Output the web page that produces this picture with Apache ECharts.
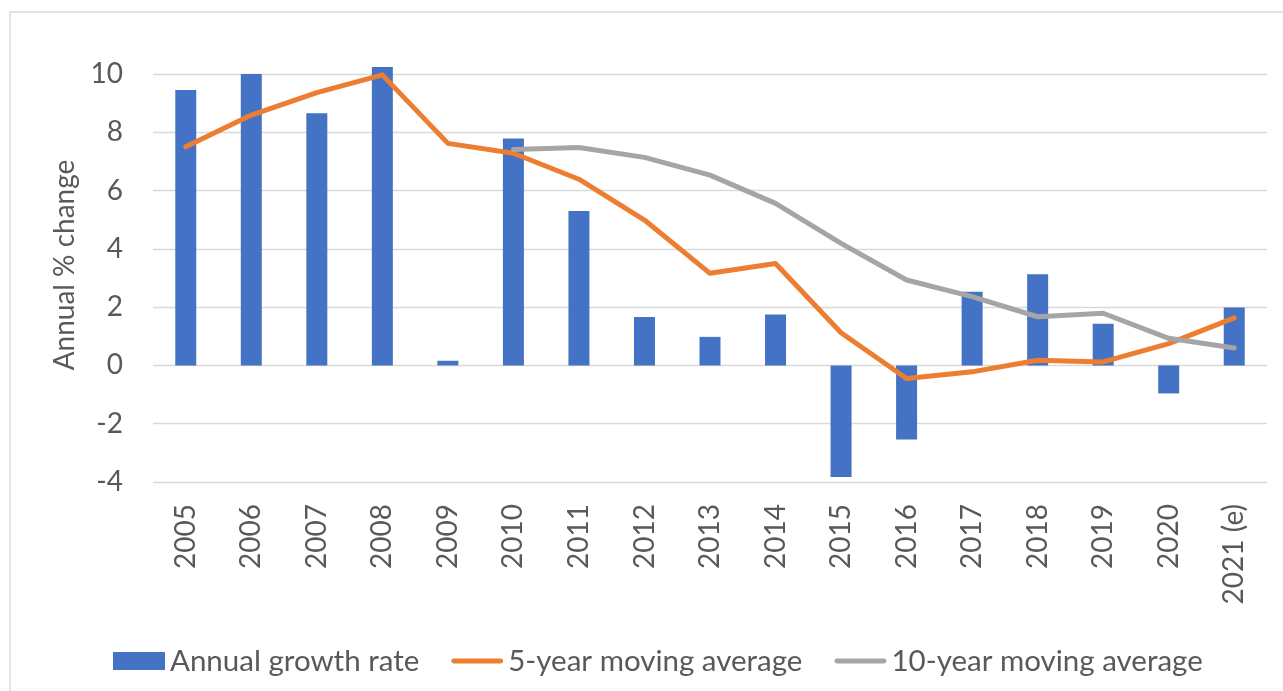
<!DOCTYPE html>
<html>
<head>
<meta charset="utf-8">
<script src="https://cdn.jsdelivr.net/npm/echarts@6/dist/echarts.min.js"></script>
<style>
  html, body { margin: 0; padding: 0; background: #fff; }
  #chart { width: 1283px; height: 691px; }
</style>
</head>
<body>
<div id="chart"></div>
<script>
const years = ["2005", "2006", "2007", "2008", "2009", "2010", "2011", "2012", "2013",
  "2014", "2015", "2016", "2017", "2018", "2019", "2020", "2021 (e)"];
const annualGrowth = [9.45, 10.0, 8.65, 10.24, 0.16, 7.79, 5.30, 1.66, 0.98,
  1.75, -3.83, -2.54, 2.53, 3.13, 1.43, -0.96, 1.99];
const avg5 = [7.50, 8.59, 9.36, 9.97, 7.62, 7.28, 6.39, 4.99, 3.16,
  3.50, 1.12, -0.45, -0.22, 0.18, 0.12, 0.75, 1.63];
const avg10 = [null, null, null, null, null, 7.41, 7.48, 7.14, 6.53,
  5.56, 4.19, 2.93, 2.36, 1.67, 1.79, 0.93, 0.60];
const yTicks = { min: -4, max: 10, step: 2 };

const font = "Lato, 'Liberation Sans', sans-serif";
const textColor = "#595959";
// flat line icon for the legend (no marker dot)
const lineIcon = "path://M2,0 L50,0 A2.5,2.5 0 0 1 50,5 L2,5 A2.5,2.5 0 0 1 2,0 Z";

const chart = echarts.init(document.getElementById("chart"));

const option = {
  animation: false,
  textStyle: { fontFamily: font },
  graphic: [
    {
      type: "rect",
      shape: { x: 10, y: 12, width: 1300, height: 700 },
      style: { fill: "none", stroke: "#d9d9d9", lineWidth: 1.3 },
      silent: true,
    },
    {
      type: "text",
      x: 65,
      y: 265,
      rotation: Math.PI / 2,
      style: {
        text: "Annual % change",
        fontFamily: font,
        fontSize: 28,
        fill: textColor,
        align: "center",
        verticalAlign: "middle",
      },
    },
  ],
  grid: { left: 153, right: 16, top: 74, bottom: 209 },
  legend: {
    left: 108,
    top: 641,
    itemWidth: 52,
    itemHeight: 18,
    itemGap: 32,
    textStyle: { fontFamily: font, fontSize: 29.5, color: textColor, lineHeight: 28 },
    data: [
      { name: "Annual growth rate", icon: "rect" },
      { name: "5-year moving average", icon: lineIcon },
      { name: "10-year moving average", icon: lineIcon },
    ],
  },
  xAxis: {
    type: "category",
    data: years,
    axisLine: { show: false },
    axisTick: { show: false },
    axisLabel: {
      rotate: 90,
      margin: 22,
      fontSize: 28,
      color: textColor,
      fontFamily: font,
      interval: 0,
    },
  },
  yAxis: {
    type: "value",
    min: yTicks.min,
    max: yTicks.max,
    interval: yTicks.step,
    axisLine: { show: false },
    axisTick: { show: false },
    axisLabel: { fontSize: 28, color: textColor, margin: 30, fontFamily: font },
    splitLine: { lineStyle: { color: "#d9d9d9", width: 1.3 } },
  },
  series: [
    {
      name: "Annual growth rate",
      type: "bar",
      data: annualGrowth,
      barWidth: 21,
      clip: false,
      itemStyle: { color: "#4472C4" },
    },
    {
      name: "5-year moving average",
      type: "line",
      data: avg5,
      symbol: "none",
      clip: false,
      itemStyle: { color: "#ED7D31" },
      lineStyle: { color: "#ED7D31", width: 5, cap: "round", join: "round" },
    },
    {
      name: "10-year moving average",
      type: "line",
      data: avg10,
      symbol: "none",
      clip: false,
      itemStyle: { color: "#A5A5A5" },
      lineStyle: { color: "#A5A5A5", width: 5, cap: "round", join: "round" },
    },
  ],
};

chart.setOption(option);
</script>
</body>
</html>
